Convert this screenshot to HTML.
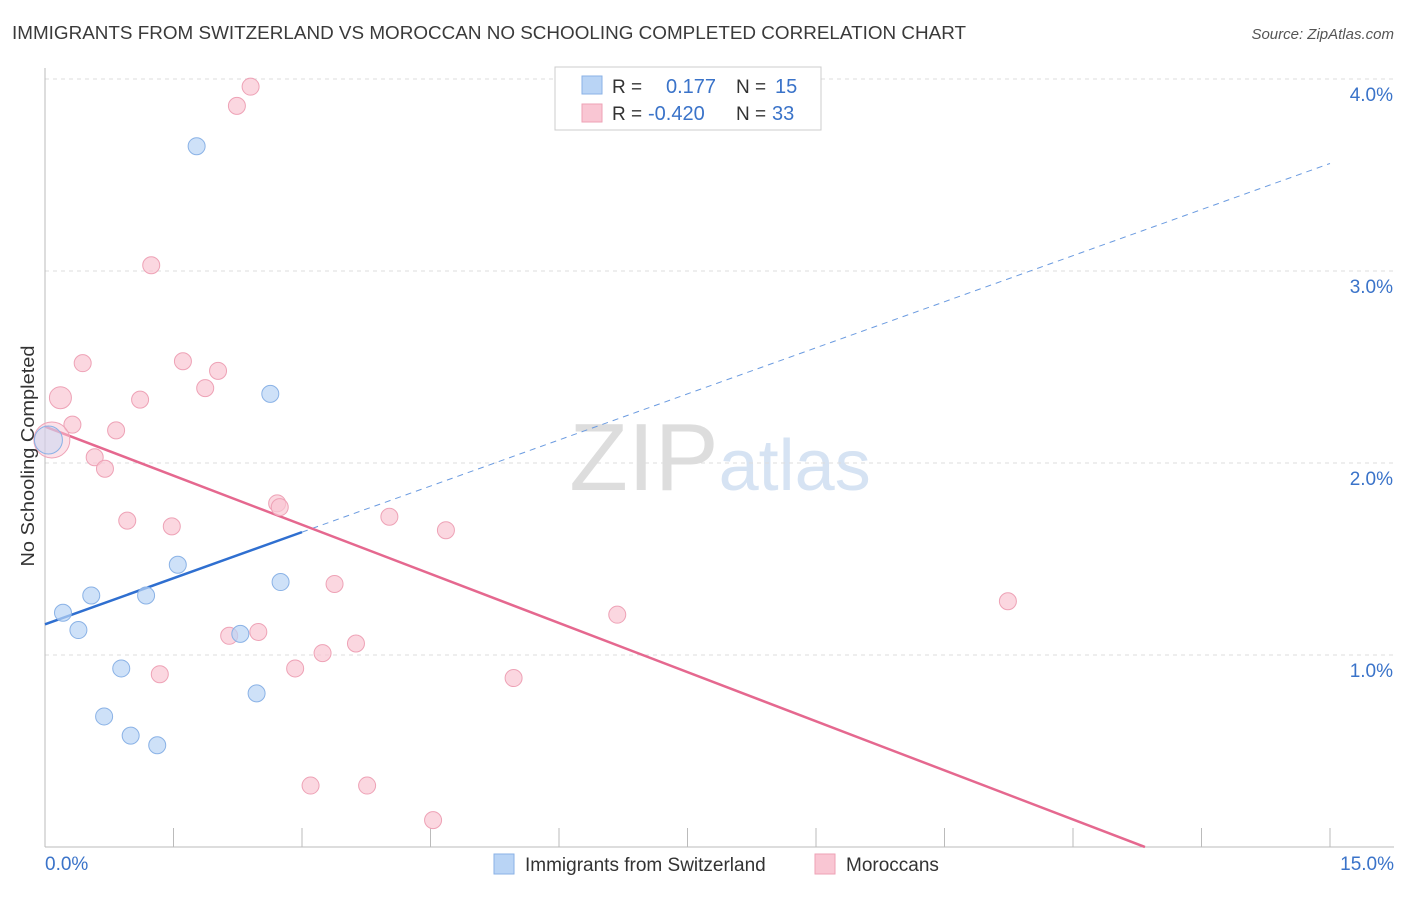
<!DOCTYPE html>
<html><head><meta charset="utf-8"><style>
body{margin:0;background:#fff;font-family:"Liberation Sans",sans-serif;}
svg text{font-family:"Liberation Sans",sans-serif;}
</style></head><body>
<svg id="chart" width="1406" height="892" xmlns="http://www.w3.org/2000/svg">
<text x="12" y="39" font-size="18" fill="#3a3a3a" textLength="954" lengthAdjust="spacingAndGlyphs">IMMIGRANTS FROM SWITZERLAND VS MOROCCAN NO SCHOOLING COMPLETED CORRELATION CHART</text>
<text x="1394" y="39" font-size="15" fill="#555" text-anchor="end" font-style="italic">Source: ZipAtlas.com</text>
<text x="720" y="490" font-size="96" text-anchor="middle" fill="#ddd" font-family="Liberation Serif">ZIP<tspan fill="#d6e3f3" font-family="Liberation Sans" font-size="72">atlas</tspan></text>
<g id="grid"></g><g id="axes"></g><g id="lines"></g><g id="pts"></g>
<text transform="translate(34,456) rotate(-90)" font-size="18" fill="#333" text-anchor="middle" textLength="221" lengthAdjust="spacingAndGlyphs">No Schooling Completed</text>
<g>
<rect x="555" y="67" width="266" height="63" fill="#fff" stroke="#ccc"/>
<rect x="582" y="76" width="20" height="18" fill="#b9d4f5" stroke="#8ab2e6"/>
<text x="612" y="93" font-size="19" fill="#333">R =</text><text x="666" y="93" font-size="20" fill="#3a73c9">0.177</text>
<text x="736" y="93" font-size="19" fill="#333">N =</text><text x="775" y="93" font-size="20" fill="#3a73c9">15</text>
<rect x="582" y="104" width="20" height="18" fill="#f9c6d3" stroke="#eea2b6"/>
<text x="612" y="120" font-size="19" fill="#333">R =</text><text x="648" y="120" font-size="20" fill="#3a73c9">-0.420</text>
<text x="736" y="120" font-size="19" fill="#333">N =</text><text x="772" y="120" font-size="20" fill="#3a73c9">33</text>
</g>
<g>
<rect x="494" y="854" width="20" height="20" fill="#b9d4f5" stroke="#8ab2e6"/>
<text x="525" y="871" font-size="19" fill="#333">Immigrants from Switzerland</text>
<rect x="815" y="854" width="20" height="20" fill="#f9c6d3" stroke="#eea2b6"/>
<text x="846" y="871" font-size="19" fill="#333">Moroccans</text>
</g>
</svg>
<script>
const xTicks=[0,1.5,3,4.5,6,7.5,9,10.5,12,13.5,15];
const yTicks=[1,2,3,4];
const blueX=[1.77,2.63,1.55,0.21,0.54,1.18,0.39,2.75,2.28,0.89,2.47,0.69,1.00,1.31,0.04];
const blueY=[3.65,2.36,1.47,1.22,1.31,1.31,1.13,1.38,1.11,0.93,0.80,0.68,0.58,0.53,2.12];
const pinkX=[2.40,2.24,1.24,0.44,1.61,2.02,0.18,1.87,1.11,0.32,0.83,0.58,0.70,2.71,2.74,4.02,4.68,0.96,1.48,3.38,6.68,11.24,2.49,2.15,3.63,3.24,2.92,1.34,5.47,3.10,3.76,4.53,0.08];
const pinkY=[3.96,3.86,3.03,2.52,2.53,2.48,2.34,2.39,2.33,2.20,2.17,2.03,1.97,1.79,1.77,1.72,1.65,1.70,1.67,1.37,1.21,1.28,1.12,1.10,1.06,1.01,0.93,0.90,0.88,0.32,0.32,0.14,2.12];
const xs=v=>45+v*(1285/15), ys=v=>847-v*192;
const NS="http://www.w3.org/2000/svg";
function mk(p,t,a){const e=document.createElementNS(NS,t);for(const k in a)e.setAttribute(k,a[k]);document.getElementById(p).appendChild(e);return e;}
yTicks.forEach(t=>{
 const l=mk('grid','line',{x1:45,x2:1394,y1:ys(t),y2:ys(t),stroke:'#ddd','stroke-dasharray':'4,4'});
 
 
 const tx=mk('grid','text',{x:1393,y:ys(t)+22,'font-size':19,fill:'#3a73c9','text-anchor':'end'});tx.textContent=t.toFixed(1)+'%';
 
 
});
const ax=mk('axes','line',{x1:45,x2:45,y1:68,y2:847,stroke:'#bbb'});

const bx=mk('axes','line',{x1:45,x2:1394,y1:847,y2:847,stroke:'#bbb'});

xTicks.forEach(t=>{const l=mk('axes','line',{x1:xs(t),x2:xs(t),y1:828,y2:847,stroke:'#bbb'});
 
 });
[[0,'start',45],[15,'end',1394]].forEach(([v,a,x])=>{const t=mk('axes','text',{x:x,y:870,'font-size':19,fill:'#3a73c9','text-anchor':a});t.textContent=v.toFixed(1)+'%';
 
 });
const bl=[0,1.16,3.0,1.64], be=[15,3.56];
let l1=mk('lines','line',{x1:xs(bl[0]),y1:ys(bl[1]),x2:xs(bl[2]),y2:ys(bl[3]),stroke:'#2f6fd0','stroke-width':2.5});

let l2=mk('lines','line',{x1:xs(bl[2]),y1:ys(bl[3]),x2:xs(be[0]),y2:ys(be[1]),stroke:'#6b9be0','stroke-width':1,'stroke-dasharray':'6,5'});

const pl=[0,2.19,12.84,0];
let l3=mk('lines','line',{x1:xs(pl[0]),y1:ys(pl[1]),x2:xs(pl[2]),y2:ys(pl[3]),stroke:'#e5688f','stroke-width':2.5});

pinkX.forEach((x,i)=>{const big=i==pinkX.length-1;const r=big?18:(i==6?11:8.5);const c=mk('pts','circle',{cx:xs(x),cy:ys(pinkY[i]),r:r,fill:'#f9c6d3','fill-opacity':big?0.5:0.7,stroke:'#eea2b6'});
 
 });
blueX.forEach((x,i)=>{const big=i==blueX.length-1;const c=mk('pts','circle',{cx:xs(x),cy:ys(blueY[i]),r:big?14:8.5,fill:'#b9d4f5','fill-opacity':big?0.4:0.7,stroke:'#8ab2e6'});
 
 });
</script>
</body></html>
